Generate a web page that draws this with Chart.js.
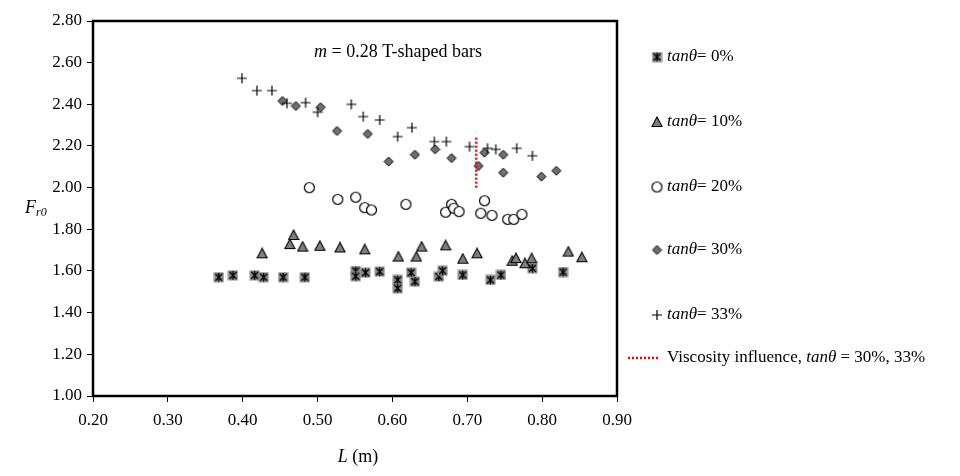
<!DOCTYPE html>
<html>
<head>
<meta charset="utf-8">
<script src="https://cdn.jsdelivr.net/npm/chart.js@4/dist/chart.umd.min.js"></script>
<style>
  html, body { margin: 0; padding: 0; background: #fff; }
  #wrap { width: 960px; height: 476px; position: relative; }
</style>
</head>
<body>
<div id="wrap"><canvas id="chart" width="960" height="476"></canvas></div>
<script>
// data: L (m) and Fr0
const x0 = [0.368, 0.387, 0.416, 0.428, 0.454, 0.483, 0.551, 0.551, 0.564, 0.583, 0.607, 0.607, 0.625, 0.630, 0.662, 0.667, 0.694, 0.731, 0.745, 0.787, 0.828];
const y0 = [1.570, 1.579, 1.579, 1.570, 1.570, 1.570, 1.600, 1.575, 1.592, 1.597, 1.557, 1.517, 1.592, 1.549, 1.573, 1.601, 1.581, 1.557, 1.581, 1.613, 1.595];

const x10 = [0.426, 0.463, 0.468, 0.480, 0.503, 0.530, 0.563, 0.608, 0.632, 0.639, 0.671, 0.694, 0.713, 0.760, 0.765, 0.777, 0.786, 0.835, 0.853];
const y10 = [1.685, 1.729, 1.773, 1.717, 1.721, 1.713, 1.704, 1.669, 1.669, 1.717, 1.723, 1.659, 1.685, 1.649, 1.662, 1.637, 1.661, 1.693, 1.666];

const x20 = [0.489, 0.527, 0.551, 0.563, 0.572, 0.618, 0.671, 0.679, 0.682, 0.689, 0.718, 0.723, 0.733, 0.754, 0.762, 0.773];
const y20 = [2.000, 1.944, 1.954, 1.904, 1.893, 1.920, 1.882, 1.920, 1.901, 1.885, 1.877, 1.937, 1.867, 1.848, 1.848, 1.872];

const x30 = [0.453, 0.471, 0.504, 0.526, 0.567, 0.595, 0.630, 0.657, 0.679, 0.715, 0.723, 0.748, 0.748, 0.799, 0.819];
const y30 = [2.416, 2.392, 2.386, 2.272, 2.258, 2.125, 2.158, 2.184, 2.142, 2.104, 2.168, 2.158, 2.072, 2.053, 2.081];

const x33 = [0.399, 0.419, 0.439, 0.459, 0.484, 0.500, 0.545, 0.561, 0.583, 0.607, 0.626, 0.656, 0.672, 0.703, 0.727, 0.738, 0.766, 0.787];
const y33 = [2.525, 2.466, 2.466, 2.405, 2.408, 2.362, 2.400, 2.341, 2.325, 2.245, 2.288, 2.221, 2.221, 2.197, 2.189, 2.184, 2.189, 2.153];

// viscosity influence marker line
const xVisc = [0.712, 0.712];
const yVisc = [2.24, 1.99];

const seriesLabels = ["0%", "10%", "20%", "30%", "33%"];

const FONT = '"Liberation Serif", "Times New Roman", serif';

function pts(xs, ys) {
  return xs.map((x, i) => ({ x: x, y: ys[i] }));
}

// marker images
function makeMarker(size, draw) {
  const c = document.createElement("canvas");
  c.width = size;
  c.height = size;
  draw(c.getContext("2d"), size);
  return c;
}

const mStarSq = makeMarker(11, (g, s) => {
  g.fillStyle = "#8a8a8a";
  g.fillRect(0.5, 0.5, s - 1, s - 1);
  g.strokeStyle = "#000";
  g.lineWidth = 1.4;
  g.beginPath();
  g.moveTo(2, 2); g.lineTo(s - 2, s - 2);
  g.moveTo(s - 2, 2); g.lineTo(2, s - 2);
  g.moveTo(s / 2, 1); g.lineTo(s / 2, s - 1);
  g.stroke();
});

const mTri = makeMarker(12, (g, s) => {
  g.fillStyle = "#7f7f7f";
  g.strokeStyle = "#000";
  g.lineWidth = 1.1;
  g.beginPath();
  g.moveTo(s / 2, 1);
  g.lineTo(s - 1, s - 1.5);
  g.lineTo(1, s - 1.5);
  g.closePath();
  g.fill();
  g.stroke();
});

const mCirc = makeMarker(13, (g, s) => {
  g.fillStyle = "#fff";
  g.strokeStyle = "#000";
  g.lineWidth = 1.2;
  g.beginPath();
  g.arc(s / 2, s / 2, 5, 0, Math.PI * 2);
  g.fill();
  g.stroke();
});

const mDia = makeMarker(11, (g, s) => {
  g.fillStyle = "#6f6f6f";
  g.strokeStyle = "#000";
  g.lineWidth = 1;
  g.beginPath();
  g.moveTo(s / 2, 1);
  g.lineTo(s - 1, s / 2);
  g.lineTo(s / 2, s - 1);
  g.lineTo(1, s / 2);
  g.closePath();
  g.fill();
  g.stroke();
});

const mPlus = makeMarker(12, (g, s) => {
  g.strokeStyle = "#000";
  g.lineWidth = 1.2;
  g.beginPath();
  g.moveTo(1, s / 2); g.lineTo(s - 1, s / 2);
  g.moveTo(s / 2, 1); g.lineTo(s / 2, s - 1);
  g.stroke();
});

const markers = [mStarSq, mTri, mCirc, mDia, mPlus];

// draw text made of plain / italic pieces
function drawRich(ctx, parts, x, y, size) {
  let cx = x;
  parts.forEach((p) => {
    ctx.font = (p[1] ? "italic " : "") + size + "px " + FONT;
    ctx.fillText(p[0], cx, y);
    cx += ctx.measureText(p[0]).width;
  });
  return cx;
}

function richWidth(ctx, parts, size) {
  let w = 0;
  parts.forEach((p) => {
    ctx.font = (p[1] ? "italic " : "") + size + "px " + FONT;
    w += ctx.measureText(p[0]).width;
  });
  return w;
}

const decor = {
  id: "decor",
  afterDraw(chart) {
    const ctx = chart.ctx;
    const a = chart.chartArea;
    ctx.save();
    // frame
    ctx.strokeStyle = "#000";
    ctx.lineWidth = 2.5;
    ctx.strokeRect(a.left, a.top, a.right - a.left, a.bottom - a.top);

    ctx.fillStyle = "#000";
    ctx.textBaseline = "middle";

    // title inside plot
    const tParts = [["m", true], [" = 0.28 T-shaped bars", false]];
    const tw = richWidth(ctx, tParts, 18);
    drawRich(ctx, tParts, 398 - tw / 2, 52, 18);

    // axis titles
    const xParts = [["L", true], [" (m)", false]];
    const xw = richWidth(ctx, xParts, 18);
    drawRich(ctx, xParts, 358 - xw / 2, 457, 18);

    ctx.font = "italic 18px " + FONT;
    ctx.fillText("F", 25, 208);
    const fw = ctx.measureText("F").width;
    ctx.font = "italic 12px " + FONT;
    ctx.fillText("r0", 25 + fw, 213);

    // legend
    const rowsY = [57, 122, 187, 250, 315];
    seriesLabels.forEach((lab, i) => {
      const m = markers[i];
      ctx.drawImage(m, 657 - m.width / 2, rowsY[i] - m.height / 2);
      drawRich(ctx, [["tan\u03b8", true], ["= " + lab, false]], 667, rowsY[i], 17);
    });
    ctx.strokeStyle = "#ff0000";
    ctx.lineWidth = 2.5;
    ctx.setLineDash([2, 2]);
    ctx.beginPath();
    ctx.moveTo(628, 358);
    ctx.lineTo(658, 358);
    ctx.stroke();
    ctx.setLineDash([]);
    drawRich(ctx, [["Viscosity influence, ", false], ["tan\u03b8", true], [" = 30%, 33%", false]], 667, 358, 17);
    ctx.restore();
  }
};

const sets = [[x0, y0], [x10, y10], [x20, y20], [x30, y30], [x33, y33]].map((s, i) => ({
  type: "scatter",
  label: "tan\u03b8= " + seriesLabels[i],
  data: pts(s[0], s[1]),
  pointStyle: markers[i],
  pointRadius: 6,
  order: 5 - i
}));

sets.push({
  type: "line",
  label: "Viscosity influence",
  data: pts(xVisc, yVisc),
  borderColor: "#ff0000",
  borderWidth: 2.5,
  borderDash: [2, 2],
  pointRadius: 0,
  fill: false,
  order: 0
});

new Chart(document.getElementById("chart"), {
  type: "scatter",
  data: { datasets: sets },
  options: {
    responsive: false,
    animation: false,
    events: [],
    layout: { padding: { left: 0, right: 343, top: 21, bottom: 0 } },
    plugins: { legend: { display: false }, tooltip: { enabled: false } },
    scales: {
      x: {
        type: "linear",
        min: 0.2,
        max: 0.9,
        afterFit: (s) => { s.height = 80; },
        border: { display: false },
        grid: { drawOnChartArea: false, drawTicks: true, tickLength: 6, color: "#000", lineWidth: 1 },
        ticks: {
          stepSize: 0.1,
          padding: 8,
          color: "#000",
          font: { family: FONT, size: 17 },
          callback: (v) => v.toFixed(2)
        }
      },
      y: {
        type: "linear",
        min: 1.0,
        max: 2.8,
        afterFit: (s) => { s.width = 93; },
        border: { display: false },
        grid: { drawOnChartArea: false, drawTicks: true, tickLength: 6, color: "#000", lineWidth: 1 },
        ticks: {
          stepSize: 0.2,
          padding: 5,
          color: "#000",
          font: { family: FONT, size: 17 },
          callback: (v) => v.toFixed(2)
        }
      }
    }
  },
  plugins: [decor]
});
</script>
</body>
</html>
